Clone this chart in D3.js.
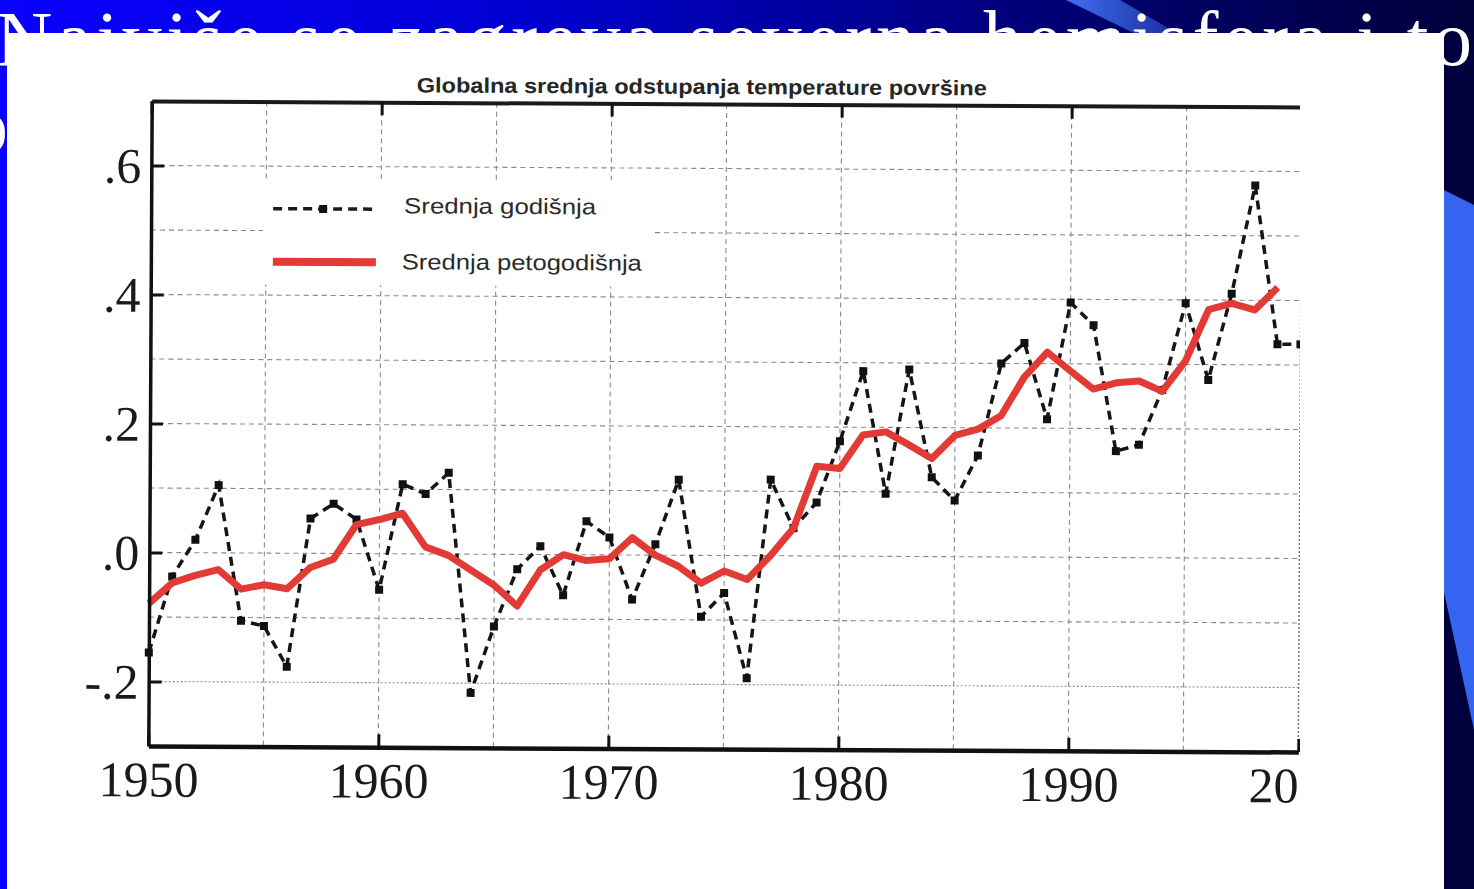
<!DOCTYPE html>
<html>
<head>
<meta charset="utf-8">
<script src="https://cdn.jsdelivr.net/npm/d3@7"></script>
<style>
  html, body { margin: 0; padding: 0; background: #000; overflow: hidden; }
  svg { display: block; }
</style>
</head>
<body>
<svg id="chart" width="1474" height="889"></svg>
<script>
// ---------------- data ----------------
const slideTitle = "Najviše se zagreva severna hemisfera i to";
const slideLine2 = "po";
const chartTitle = "Globalna srednja odstupanja temperature površine";
const legendLabels = ["Srednja godišnja", "Srednja petogodišnja"];

const years = [1950,1951,1952,1953,1954,1955,1956,1957,1958,1959,
               1960,1961,1962,1963,1964,1965,1966,1967,1968,1969,
               1970,1971,1972,1973,1974,1975,1976,1977,1978,1979,
               1980,1981,1982,1983,1984,1985,1986,1987,1988,1989,
               1990,1991,1992,1993,1994,1995,1996,1997,1998,1999,
               2000];

// Srednja godišnja (annual mean anomaly)
const annual = [-0.155,-0.037,0.020,0.105,-0.105,-0.113,-0.176,0.054,0.077,0.053,
                -0.056,0.108,0.093,0.126,-0.215,-0.112,-0.023,0.013,-0.063,0.052,
                0.027,-0.069,0.017,0.117,-0.095,-0.058,-0.190,0.118,0.043,0.083,
                0.178,0.287,0.097,0.290,0.123,0.087,0.157,0.300,0.332,0.214,
                0.395,0.360,0.165,0.175,0.260,0.395,0.276,0.410,0.578,0.332,
                0.332];

// Srednja petogodišnja (5-year mean), 1950–1999
const fiveYear = [-0.079,-0.047,-0.035,-0.026,-0.056,-0.049,-0.055,-0.022,-0.009,0.045,
                  0.053,0.063,0.011,-0.002,-0.025,-0.048,-0.080,-0.024,0.000,-0.009,
                  -0.006,0.027,0.000,-0.017,-0.043,-0.024,-0.037,0.000,0.043,0.139,
                  0.136,0.188,0.193,0.173,0.152,0.188,0.198,0.219,0.279,0.318,
                  0.289,0.261,0.271,0.274,0.258,0.305,0.385,0.395,0.385,0.420];

const xTickValues = [1950,1960,1970,1980,1990,2000];
const xTickLabels = ["1950","1960","1970","1980","1990","2000"];
const yTickValues = [0.6,0.4,0.2,0.0,-0.2];
const yTickLabels = [".6",".4",".2",".0","-.2"];
const xGridValues = [1955,1960,1965,1970,1975,1980,1985,1990,1995];
const yGridValues = [-0.2,-0.1,0.0,0.1,0.2,0.3,0.4,0.5,0.6];

// ---------------- drawing ----------------
const svg = d3.select("#chart");
const W = 1474, H = 889;
const defs = svg.append("defs");

const bg = defs.append("linearGradient").attr("id","bgGrad")
  .attr("x1","0").attr("y1","0").attr("x2","1").attr("y2","0");
bg.append("stop").attr("offset","0%").attr("stop-color","#0a00ff");
bg.append("stop").attr("offset","35%").attr("stop-color","#0000d2");
bg.append("stop").attr("offset","70%").attr("stop-color","#000078");
bg.append("stop").attr("offset","100%").attr("stop-color","#00003a");

const wedge = defs.append("linearGradient").attr("id","wedgeGrad")
  .attr("x1","0").attr("y1","0").attr("x2","1").attr("y2","0");
wedge.append("stop").attr("offset","0%").attr("stop-color","#3f6ef0");
wedge.append("stop").attr("offset","100%").attr("stop-color","#1a2c9a");

svg.append("rect").attr("width",W).attr("height",H).attr("fill","url(#bgGrad)");

// decorative light-blue shapes of the slide
svg.append("polygon")
  .attr("points","1066,0 1120,0 1180,35 1138,35")
  .attr("fill","url(#wedgeGrad)");
svg.append("polygon")
  .attr("points","1444,190 1474,205 1474,730 1444,592")
  .attr("fill","#3464f0");

// slide heading (white serif), mostly covered by the picture
svg.append("text")
  .attr("x",-4).attr("y",65)
  .attr("font-family","'Liberation Serif','DejaVu Serif',serif")
  .attr("font-size",78).attr("fill","#ffffff")
  .attr("textLength",1476).attr("lengthAdjust","spacing")
  .text(slideTitle);
svg.append("text")
  .attr("x",-31).attr("y",152)
  .attr("font-family","'Liberation Serif','DejaVu Serif',serif")
  .attr("font-size",78).attr("fill","#ffffff")
  .text(slideLine2);

// white picture panel
svg.append("rect").attr("x",7).attr("y",33).attr("width",1437).attr("height",856).attr("fill","#ffffff");

defs.append("clipPath").attr("id","clipChart")
  .append("rect").attr("x",7).attr("y",33).attr("width",1293).attr("height",856);

const outer = svg.append("g").attr("clip-path","url(#clipChart)");
const g = outer.append("g").attr("transform","rotate(0.3,150,425)");

const x = d3.scaleLinear().domain([1950,2000]).range([150,1300]);
const y = d3.scaleLinear().domain([-0.3,0.7]).range([746,101]);

// chart title
g.append("text")
  .attr("x",700).attr("y",91)
  .attr("text-anchor","middle")
  .attr("font-family","'Liberation Sans Narrow','Liberation Sans',Arial,sans-serif")
  .attr("font-weight","bold").attr("font-size",21).attr("fill","#262626")
  .attr("textLength",570).attr("lengthAdjust","spacingAndGlyphs")
  .text(chartTitle);

// grid
const gridColor = "#8a8a8a";
g.append("g").selectAll("line").data(yGridValues).join("line")
  .attr("x1",x(1950)).attr("x2",x(2000))
  .attr("y1",d=>y(d)).attr("y2",d=>y(d))
  .attr("stroke",gridColor).attr("stroke-width",1.1)
  .attr("stroke-dasharray",d=>d===-0.2?"2,2":"5,4");
g.append("g").selectAll("line").data(xGridValues).join("line")
  .attr("x1",d=>x(d)).attr("x2",d=>x(d))
  .attr("y1",y(0.7)).attr("y2",y(-0.3))
  .attr("stroke",gridColor).attr("stroke-width",1.1)
  .attr("stroke-dasharray","5,4");
// right border (dotted)
g.append("line")
  .attr("x1",x(2000)).attr("x2",x(2000))
  .attr("y1",y(0.7)).attr("y2",y(-0.3))
  .attr("stroke","#777").attr("stroke-width",1.5).attr("stroke-dasharray","2,2");

// legend (white box hides grid)
const lg = g.append("g");
lg.append("rect").attr("x",262).attr("y",178).attr("width",390).attr("height",106).attr("fill","#ffffff");
lg.append("line").attr("x1",272).attr("x2",375).attr("y1",208).attr("y2",208)
  .attr("stroke","#1a1a1a").attr("stroke-width",3.5).attr("stroke-dasharray","9,6");
lg.append("rect").attr("x",318).attr("y",204).attr("width",8).attr("height",8).attr("fill","#111");
lg.append("line").attr("x1",272).attr("x2",375).attr("y1",261).attr("y2",261)
  .attr("stroke","#e23b36").attr("stroke-width",8);
lg.append("text").attr("x",403).attr("y",212)
  .attr("font-family","'Liberation Sans',Arial,sans-serif").attr("font-size",22).attr("fill","#2a2a2a")
  .attr("textLength",192).attr("lengthAdjust","spacingAndGlyphs")
  .text(legendLabels[0]);
lg.append("text").attr("x",401).attr("y",268)
  .attr("font-family","'Liberation Sans',Arial,sans-serif").attr("font-size",22).attr("fill","#2a2a2a")
  .attr("textLength",240).attr("lengthAdjust","spacingAndGlyphs")
  .text(legendLabels[1]);

// series
const annualData = years.map((yr,i)=>({yr, v: annual[i]}));
const fiveData = years.slice(0, fiveYear.length).map((yr,i)=>({yr, v: fiveYear[i]}));

const line = d3.line().x(d=>x(d.yr)).y(d=>y(d.v));

g.append("path").datum(annualData)
  .attr("d",line).attr("fill","none")
  .attr("stroke","#151515").attr("stroke-width",3.5)
  .attr("stroke-dasharray","9,6");
g.append("g").selectAll("rect").data(annualData).join("rect")
  .attr("x",d=>x(d.yr)-4).attr("y",d=>y(d.v)-4)
  .attr("width",8).attr("height",8).attr("fill","#111");

g.append("path").datum(fiveData)
  .attr("d",line).attr("fill","none")
  .attr("stroke","#e23b36").attr("stroke-width",7)
  .attr("stroke-linejoin","round").attr("stroke-linecap","butt");

// axes
const serif = "'Liberation Serif','Times New Roman',serif";
const axL = g.append("g").attr("transform",`translate(${x(1950)},0)`)
  .call(d3.axisLeft(y).tickValues(yTickValues).tickSize(-13).tickSizeOuter(0).tickPadding(10)
        .tickFormat((d,i)=>yTickLabels[i]));
const axB = g.append("g").attr("transform",`translate(0,${y(-0.3)})`)
  .call(d3.axisBottom(x).tickValues(xTickValues).tickSize(-13).tickSizeOuter(0).tickPadding(15)
        .tickFormat((d,i)=>xTickLabels[i]));
const axT = g.append("g").attr("transform",`translate(0,${y(0.7)})`)
  .call(d3.axisTop(x).tickValues(xTickValues).tickSize(-13).tickSizeOuter(0).tickFormat(""));

[axL, axB, axT].forEach(a=>{
  a.selectAll(".tick line").attr("stroke","#111").attr("stroke-width",3);
  a.selectAll("text").attr("font-family",serif).attr("font-size",50).attr("fill","#1a1a1a");
});
axL.select(".domain").attr("stroke","#111").attr("stroke-width",3.5);
axB.select(".domain").attr("stroke","#111").attr("stroke-width",4.5);
axT.select(".domain").attr("stroke","#1a1a1a").attr("stroke-width",4);
axL.selectAll("text").attr("dy","0.34em");
</script>
</body>
</html>
